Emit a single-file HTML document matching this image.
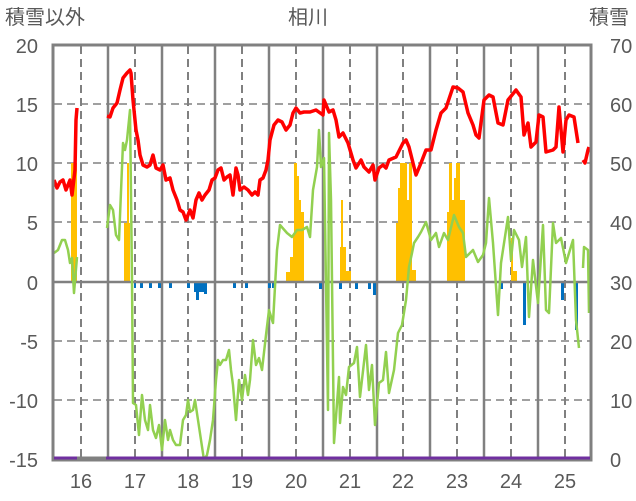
<!DOCTYPE html>
<html><head><meta charset="utf-8"><style>
body{margin:0;background:#fff;}
svg{display:block;font-family:"Liberation Sans","Noto Sans CJK JP",sans-serif;}
</style></head><body>
<svg width="636" height="501" viewBox="0 0 636 501" xmlns="http://www.w3.org/2000/svg">
<rect width="636" height="501" fill="#fff"/>
<g stroke="#808080" stroke-width="1.5" stroke-dasharray="8,5">
<line x1="54" y1="104" x2="591" y2="104"/><line x1="54" y1="163" x2="591" y2="163"/>
<line x1="54" y1="222" x2="591" y2="222"/><line x1="54" y1="341" x2="591" y2="341"/>
<line x1="54" y1="400" x2="591" y2="400"/>
</g>
<g stroke="#808080" stroke-width="2" stroke-dasharray="8,5">
<line x1="81" y1="46" x2="81" y2="459"/><line x1="135" y1="46" x2="135" y2="459"/>
<line x1="188" y1="46" x2="188" y2="459"/><line x1="242" y1="46" x2="242" y2="459"/>
<line x1="296" y1="46" x2="296" y2="459"/><line x1="350" y1="46" x2="350" y2="459"/>
<line x1="403" y1="46" x2="403" y2="459"/><line x1="457" y1="46" x2="457" y2="459"/>
<line x1="511" y1="46" x2="511" y2="459"/><line x1="565" y1="46" x2="565" y2="459"/>
</g>
<g stroke="#808080" stroke-width="2.5">
<line x1="108" y1="46" x2="108" y2="459"/><line x1="162" y1="46" x2="162" y2="459"/>
<line x1="215" y1="46" x2="215" y2="459"/><line x1="269" y1="46" x2="269" y2="459"/>
<line x1="323" y1="46" x2="323" y2="459"/><line x1="377" y1="46" x2="377" y2="459"/>
<line x1="430" y1="46" x2="430" y2="459"/><line x1="484" y1="46" x2="484" y2="459"/>
<line x1="538" y1="46" x2="538" y2="459"/>
</g>
<g fill="#FFC000">
<rect x="71" y="163" width="6" height="119"/>
<rect x="124" y="223" width="6" height="59"/><rect x="127" y="163" width="2" height="60"/>
<rect x="286" y="272" width="4" height="10"/><rect x="290" y="257" width="3" height="25"/>
<rect x="293" y="235" width="2" height="47"/><rect x="294" y="163" width="3" height="119"/>
<rect x="297" y="176" width="2" height="106"/><rect x="299" y="200" width="2" height="82"/>
<rect x="301" y="212" width="3" height="70"/>
<rect x="341" y="200" width="2" height="82"/><rect x="340" y="247" width="6" height="35"/>
<rect x="346" y="271" width="5" height="11"/>
<rect x="396" y="223" width="2" height="59"/><rect x="398" y="188" width="2" height="94"/>
<rect x="400" y="163" width="7" height="119"/><rect x="407" y="200" width="2" height="82"/>
<rect x="409" y="163" width="3" height="119"/><rect x="412" y="270" width="4" height="12"/>
<rect x="447" y="212" width="2" height="70"/><rect x="449" y="163" width="3" height="119"/>
<rect x="452" y="200" width="2" height="82"/><rect x="454" y="178" width="2" height="104"/>
<rect x="456" y="163" width="4" height="119"/><rect x="460" y="200" width="5" height="82"/>
<rect x="511" y="238" width="2" height="44"/><rect x="513" y="271" width="4" height="11"/>
</g>
<g fill="#0070C0">
<rect x="134" y="282" width="2" height="6"/><rect x="140" y="282" width="3" height="6"/>
<rect x="149" y="282" width="3" height="6"/><rect x="158" y="282" width="3" height="6"/>
<rect x="169" y="282" width="3" height="6"/><rect x="187" y="282" width="3" height="6"/>
<rect x="194" y="282" width="10" height="10"/><rect x="196" y="282" width="3" height="18"/>
<rect x="204" y="282" width="3" height="12"/>
<rect x="233" y="282" width="3" height="6"/><rect x="245" y="282" width="3" height="6"/>
<rect x="268" y="282" width="3" height="6"/><rect x="272" y="282" width="2" height="6"/>
<rect x="319" y="282" width="3" height="7"/><rect x="339" y="282" width="3" height="7"/>
<rect x="355" y="282" width="3" height="7"/><rect x="368" y="282" width="3" height="7"/>
<rect x="373" y="282" width="3" height="13"/><rect x="500" y="282" width="3" height="7"/>
<rect x="523" y="282" width="3" height="43"/><rect x="561" y="282" width="3" height="18"/>
<rect x="575" y="282" width="3" height="48"/>
</g>
<line x1="54" y1="282" x2="591" y2="282" stroke="#808080" stroke-width="2.5"/>
<g fill="none" stroke="#92D050" stroke-width="2.5" stroke-linejoin="round">
<polyline points="54,253 58,250 62,240 65,240 68,250 70,263 72,258 74,293 77,257"/>
<polyline points="107,228 110,205 113,210 116,235 119,240 123,143 125,150 127,140 130,110 132,280 133,403 136,405 139,435 142,395 145,420 148,430 150,405 153,430 156,438 159,425 162,450 165,420 168,440 170,430 173,440 176,445 180,445 183,420 186,415 188,400 190,412 193,410 195,400 198,420 201,440 204,460 207,455 210,440 213,420 216,380 218,360 220,365 223,360 226,360 229,350 231,370 233,385 236,420 239,380 242,400 245,375 248,395 250,380 253,340 256,365 259,358 262,370 266,335 269,310 272,320 273,323 277,250 280,225 287,233 292,237 297,230 302,230 307,227 310,237 313,190 317,167 319,130 321,167 324,158 328,410 329,133 331,200 334,443 339,377 340,423 343,387 346,395 349,367 354,363 357,347 360,397 366,345 369,390 372,365 375,425 379,383 383,380 386,352 389,393 394,370 398,333 402,325 406,300 409,267 412,253 414,243 418,237 421,232 426,222 431,240 436,233 439,247 444,233 448,240 454,215 459,227 463,233 466,257 473,250 478,262 483,255 486,243 489,198 493,243 498,315 501,263 508,217 511,260 514,230 519,240 522,267 526,237 529,317 533,260 538,303 543,225 546,310 549,313 553,223 556,243 561,238 566,263 573,240 576,320 579,348"/>
<polyline points="583,268 584,247 588,250 589,313"/>
</g>
<g fill="none" stroke="#FF0000" stroke-width="3.5" stroke-linejoin="round">
<polyline points="54,180 57,188 60,182 63,180 66,190 70,180 72,195 75,170 76,120 77,108"/>
<polyline points="107,116 110,117 113,108 117,103 120,90 123,78 127,73 130,70 131,73 133,100 136,130 138,140 140,155 143,165 147,167 150,165 153,155 156,168 160,170 163,165 166,180 170,178 173,190 177,200 180,210 183,212 186,220 190,210 193,218 196,200 199,193 202,200 205,195 209,190 212,180 215,178 218,170 221,168 224,180 227,177 230,175 233,195 236,168 238,175 240,190 244,187 248,190 252,195 255,192 258,195 260,180 263,178 266,170 268,160 270,140 274,125 278,120 282,122 286,130 290,125 293,113 296,108 300,113 304,112 310,112 316,110 323,115 324,100 329,112 333,110 336,120 339,137 343,133 348,143 353,160 356,168 361,160 364,167 369,172 373,165 375,180 379,168 383,165 386,168 389,160 396,157 403,143 406,140 409,147 413,163 416,175 421,163 426,150 431,150 436,130 441,113 446,108 453,87 458,88 463,92 468,113 473,125 476,135 479,138 484,100 489,95 493,97 498,123 503,125 508,100 516,90 521,97 524,135 528,123 531,147 536,142 539,115 543,117 546,152 553,150 556,147 559,107 563,152 566,120 569,115 574,117 578,143"/>
<polyline points="583,160 585,163 588,150 589,147"/>
</g>
<rect x="53" y="45" width="538" height="415" fill="none" stroke="#808080" stroke-width="3"/>
<line x1="54" y1="458" x2="77" y2="458" stroke="#7030A0" stroke-width="3"/>
<line x1="77" y1="458" x2="106" y2="458" stroke="#808080" stroke-width="3"/>
<line x1="106" y1="458" x2="590" y2="458" stroke="#7030A0" stroke-width="3"/>
<g fill="#595959" font-size="20">
<text x="5" y="24">積雪以外</text>
<text x="308" y="24" text-anchor="middle">相川</text>
<text x="589" y="24">積雪</text>
<g text-anchor="end">
<text x="38" y="53">20</text><text x="38" y="112">15</text><text x="38" y="171">10</text>
<text x="38" y="230">5</text><text x="38" y="290">0</text><text x="38" y="349">-5</text>
<text x="38" y="408">-10</text><text x="38" y="467">-15</text>
</g>
<g>
<text x="610" y="53">70</text><text x="610" y="112">60</text><text x="610" y="171">50</text>
<text x="610" y="230">40</text><text x="610" y="290">30</text><text x="610" y="349">20</text>
<text x="610" y="408">10</text><text x="610" y="467">0</text>
</g>
<g text-anchor="middle">
<text x="81" y="488">16</text><text x="135" y="488">17</text><text x="188" y="488">18</text>
<text x="242" y="488">19</text><text x="296" y="488">20</text><text x="350" y="488">21</text>
<text x="403" y="488">22</text><text x="457" y="488">23</text><text x="511" y="488">24</text>
<text x="565" y="488">25</text>
</g>
</g>
</svg>
</body></html>
